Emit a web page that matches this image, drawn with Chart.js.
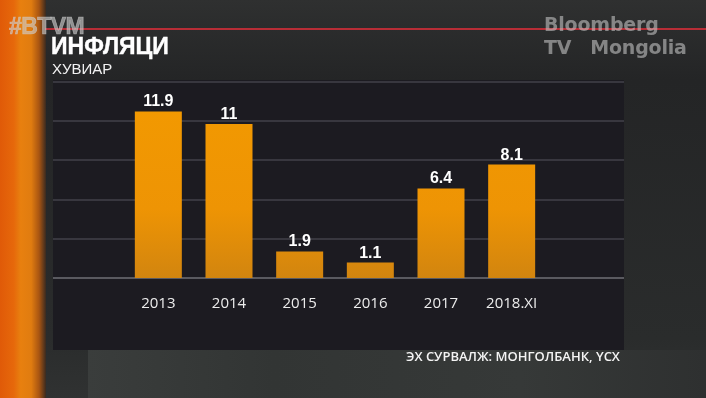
<!DOCTYPE html>
<html>
<head>
<meta charset="utf-8">
<script src="https://cdn.jsdelivr.net/npm/chart.js@4/dist/chart.umd.min.js"></script>
<style>
  html, body { margin: 0; padding: 0; background: #2b2c2c; }
  #wrap { position: relative; width: 706px; height: 398px; overflow: hidden; }
  canvas { position: absolute; left: 0; top: 0; }
  .t { position: absolute; white-space: pre; }
  #btvm { left: 9px; top: 13px; font: bold 23px "Liberation Sans", Arial, sans-serif; letter-spacing: -0.6px; color: rgba(205,205,205,0.62); -webkit-text-stroke: 0.7px rgba(205,205,205,0.62); }
  #title { left: 51px; top: 33px; font: bold 23px "Liberation Sans", Arial, sans-serif; color: #ffffff; -webkit-text-stroke: 0.4px #ffffff; }
  #sub { left: 52px; top: 60px; font: 15px "Liberation Sans", Arial, sans-serif; color: #f2f2f2; }
  #bb1 { left: 544px; top: 13px; font: bold 19px "DejaVu Sans", sans-serif; letter-spacing: -0.2px; color: rgba(200,200,200,0.58); }
  #bb2 { left: 544px; top: 36px; font: bold 19px "DejaVu Sans", sans-serif; letter-spacing: -0.2px; color: rgba(200,200,200,0.58); }
  #src { left: 406px; top: 347px; font: 600 13px "Open Sans", sans-serif; color: #f4f4f4; }
</style>
</head>
<body>
<div id="wrap">
  <canvas id="c" width="706" height="398"></canvas>
  <div class="t" id="btvm">#BTVM</div>
  <div class="t" id="title">ИНФЛЯЦИ</div>
  <div class="t" id="sub">ХУВИАР</div>
  <div class="t" id="bb1">Bloomberg</div>
  <div class="t" id="bb2">TV<span style="margin-left:19px">Mongolia</span></div>
  <div class="t" id="src">ЭХ СУРВАЛЖ: МОНГОЛБАНК, ҮСХ</div>
</div>
<script>
const categories = ['2013', '2014', '2015', '2016', '2017', '2018.XI'];
const inflation = [11.9, 11, 1.9, 1.1, 6.4, 8.1];
const valueLabels = ['11.9', '11', '1.9', '1.1', '6.4', '8.1'];
const yMin = 0, yMax = 14, yStep = 2.8;

const backdrop = {
  id: 'backdrop',
  beforeDraw(chart) {
    const ctx = chart.ctx;
    const W = chart.width, H = chart.height;
    ctx.save();
    // base background
    let g = ctx.createLinearGradient(0, 0, 0, H);
    g.addColorStop(0, '#2f3030');
    g.addColorStop(0.2, '#242526');
    g.addColorStop(0.85, '#2a2c2c');
    g.addColorStop(1, '#303232');
    ctx.fillStyle = g;
    ctx.fillRect(0, 0, W, H);
    // lighter bottom band below the panel
    g = ctx.createLinearGradient(88, 0, 706, 0);
    g.addColorStop(0, '#3a3d3c');
    g.addColorStop(0.3, '#323534');
    g.addColorStop(0.7, '#363938');
    g.addColorStop(1, '#2e3030');
    ctx.fillStyle = g;
    ctx.fillRect(88, 350, W - 88, H - 350);
    // orange strip
    g = ctx.createLinearGradient(0, 0, 46, 0);
    g.addColorStop(0, '#e05a08');
    g.addColorStop(0.3, '#e6680b');
    g.addColorStop(0.45, '#e8800f');
    g.addColorStop(0.68, '#e07c10');
    g.addColorStop(0.85, '#a85512');
    g.addColorStop(1, '#3a2a20');
    ctx.fillStyle = g;
    ctx.fillRect(0, 0, 46, H);
    // red line
    ctx.fillStyle = 'rgba(200,45,55,0.9)';
    ctx.fillRect(45, 28, W - 45, 2);
    // panel
    const pl = 53, pr = 624, pt = 80, pb = 350;
    ctx.fillStyle = '#1c1b21';
    ctx.fillRect(pl, pt, pr - pl, pb - pt);
    // gridlines from y scale
    const ys = chart.scales.y;
    for (let v = yMin; v <= yMax + 1e-9; v += yStep) {
      const y = Math.round(ys.getPixelForValue(v));
      ctx.fillStyle = (v === yMin) ? '#5a5a60' : '#38373f';
      ctx.fillRect(pl, y - 1, pr - pl, 2);
    }
    ctx.restore();
  }
};

const valueLabelPlugin = {
  id: 'valueLabels',
  afterDatasetsDraw(chart) {
    const ctx = chart.ctx;
    const meta = chart.getDatasetMeta(0);
    ctx.save();
    ctx.fillStyle = '#ffffff';
    ctx.font = 'bold 16px "Liberation Sans", Arial, sans-serif';
    ctx.textAlign = 'center';
    ctx.textBaseline = 'alphabetic';
    meta.data.forEach((bar, i) => {
      ctx.fillText(valueLabels[i], bar.x, bar.y - 5);
    });
    ctx.restore();
  }
};

function barFill(context) {
  const chart = context.chart;
  const area = chart.chartArea;
  if (!area) return '#f09600';
  const g = chart.ctx.createLinearGradient(0, area.bottom, 0, area.top);
  g.addColorStop(0, '#d2850f');
  g.addColorStop(0.35, '#ee9404');
  g.addColorStop(1, '#f39a00');
  return g;
}

new Chart(document.getElementById('c'), {
  type: 'bar',
  data: {
    labels: categories,
    datasets: [{
      data: inflation,
      backgroundColor: barFill,
      borderWidth: 0,
      categoryPercentage: 1,
      barPercentage: 0.665
    }]
  },
  options: {
    responsive: false,
    animation: false,
    devicePixelRatio: 1,
    layout: { padding: { left: 123, right: 159, top: 82, bottom: 0 } },
    plugins: { legend: { display: false }, tooltip: { enabled: false } },
    scales: {
      x: {
        grid: { display: false, drawTicks: false },
        border: { display: false },
        ticks: {
          color: '#ececec',
          font: { family: '"Open Sans", sans-serif', size: 15 },
          padding: 17,
          maxRotation: 0
        },
        afterFit(scale) { scale.height = 120; }
      },
      y: {
        display: false,
        min: yMin,
        max: yMax,
        ticks: { stepSize: yStep }
      }
    }
  },
  plugins: [backdrop, valueLabelPlugin]
});
</script>
</body>
</html>
